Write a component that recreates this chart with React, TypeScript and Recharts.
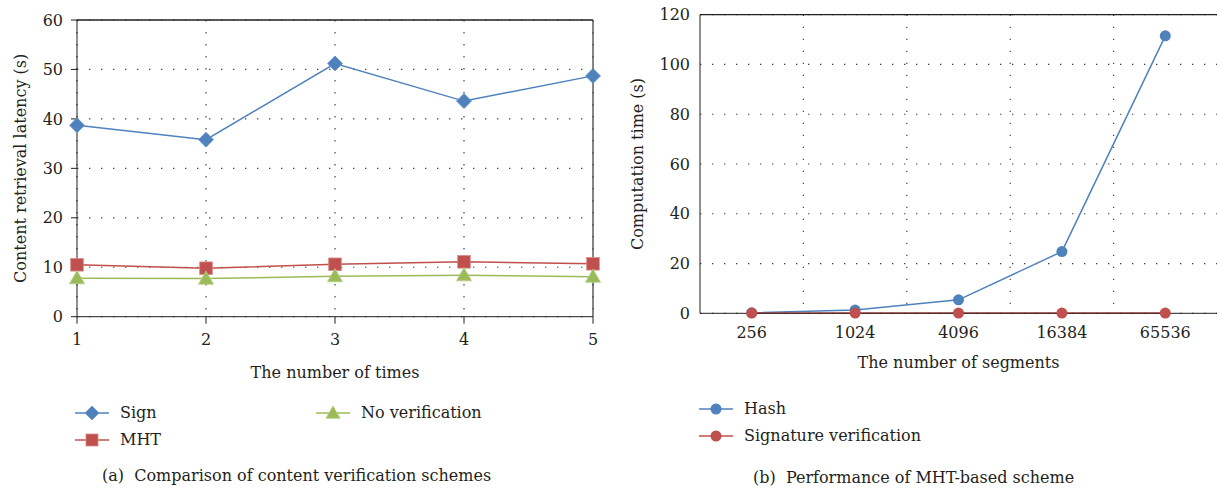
import React from 'react';
import { LineChart, Line, XAxis, YAxis, CartesianGrid, ReferenceLine } from 'recharts';

// (a) content retrieval latency per run
const times = [1, 2, 3, 4, 5];
const signLatency = [38.7, 35.8, 51.2, 43.6, 48.7];
const mhtLatency = [10.5, 9.8, 10.6, 11.1, 10.7];
const noVerifyLatency = [7.8, 7.7, 8.2, 8.4, 8.1];
const latencyTicks = [0, 10, 20, 30, 40, 50, 60];

// (b) computation time per segment count
const segments = ['256', '1024', '4096', '16384', '65536'];
const hashTime = [0.2, 1.3, 5.4, 24.8, 111.5];
const sigTime = [0.1, 0.1, 0.1, 0.1, 0.1];
const timeTicks = [0, 20, 40, 60, 80, 100, 120];

const BLUE = '#4f81bd';
const RED = '#c0504d';
const GREEN = '#9bbb59';
const INK = '#231f20';
const FONT = 'DejaVu Serif';
const FS = 16;

const latencyData = times.map((t, i) => ({
  t,
  sign: signLatency[i],
  mht: mhtLatency[i],
  none: noVerifyLatency[i],
}));

const timeData = segments.map((s, i) => ({
  seg: s,
  hash: hashTime[i],
  sig: sigTime[i],
}));

const Diamond = ({ cx, cy, r = 7.5 }: any) => (
  <path d={`M${cx},${cy - r}L${cx + r},${cy}L${cx},${cy + r}L${cx - r},${cy}Z`} fill={BLUE} stroke="#6a96cc" strokeWidth={0.8} />
);
const Square = ({ cx, cy, r = 6.3 }: any) => (
  <rect x={cx - r} y={cy - r} width={2 * r} height={2 * r} fill={RED} stroke="#d78a88" strokeWidth={0.8} />
);
const Triangle = ({ cx, cy, r = 7.5 }: any) => (
  <path d={`M${cx},${cy - r}L${cx + r},${cy + r * 0.75}L${cx - r},${cy + r * 0.75}Z`} fill={GREEN} stroke="#b3cd83" strokeWidth={0.8} />
);
const Dot = ({ cx, cy, fill }: any) => <circle cx={cx} cy={cy} r={5.5} fill={fill} />;

const tickStyle = { fill: INK, fontSize: FS, fontFamily: FONT };
const gridProps = { stroke: '#444', strokeDasharray: '1.4 10.6', strokeWidth: 1.2 };

const legendText: React.CSSProperties = {
  position: 'absolute',
  fontFamily: FONT,
  fontSize: FS,
  color: INK,
  whiteSpace: 'nowrap',
  lineHeight: '20px',
};

function LegendItem({ x, y, color, marker, label }: any) {
  return (
    <>
      <svg style={{ position: 'absolute', left: x, top: y - 10 }} width={36} height={20}>
        <line x1={0} y1={10} x2={34} y2={10} stroke={color} strokeWidth={1.5} />
        {marker(17, 10)}
      </svg>
      <div style={{ ...legendText, left: x + 45, top: y - 10 }}>{label}</div>
    </>
  );
}

export default function App() {
  const rightW = 617;
  const rightYW = 100;
  const rightPlotW = rightW - rightYW;
  const bandPad = rightPlotW / (2 * segments.length);

  return (
    <div style={{ position: 'absolute', left: 0, top: 0, width: 1217, height: 492, background: '#fff', overflow: 'hidden' }}>
      <LineChart
        width={620}
        height={400}
        data={latencyData}
        margin={{ top: 20, right: 27, left: 0, bottom: 22.3 }}
        style={{ position: 'absolute', left: 0, top: 0 }}
      >
        <CartesianGrid {...gridProps} />
        <XAxis
          dataKey="t"
          type="number"
          domain={[1, 5]}
          ticks={times}
          height={61}
          stroke={INK}
          tick={tickStyle}
          tickSize={7}
          tickMargin={10}
          label={{ value: 'The number of times', position: 'insideBottom', offset: 0, fill: INK, fontSize: FS, fontFamily: FONT }}
        />
        <YAxis
          domain={[0, 60]}
          ticks={latencyTicks}
          width={77}
          stroke={INK}
          tick={tickStyle}
          tickSize={6}
          tickMargin={8}
          label={{ value: 'Content retrieval latency (s)', angle: -90, position: 'insideLeft', offset: 20, fill: INK, fontSize: FS, fontFamily: FONT, style: { textAnchor: 'middle' } }}
        />
        <ReferenceLine y={60} stroke={INK} strokeWidth={1.3} />
        <ReferenceLine x={5} stroke="#444" strokeWidth={1.3} />
        <Line dataKey="sign" stroke={BLUE} strokeWidth={1.5} isAnimationActive={false} dot={(p: any) => <Diamond key={p.index} cx={p.cx} cy={p.cy} />} />
        <Line dataKey="mht" stroke={RED} strokeWidth={1.5} isAnimationActive={false} dot={(p: any) => <Square key={p.index} cx={p.cx} cy={p.cy} />} />
        <Line dataKey="none" stroke={GREEN} strokeWidth={1.5} isAnimationActive={false} dot={(p: any) => <Triangle key={p.index} cx={p.cx} cy={p.cy} />} />
      </LineChart>

      <LineChart
        width={rightW}
        height={400}
        data={timeData}
        margin={{ top: 14.7, right: 0, left: 0, bottom: 31.7 }}
        style={{ position: 'absolute', left: 600, top: 0 }}
      >
        <CartesianGrid
          {...gridProps}
          verticalCoordinatesGenerator={({ offset }: any) =>
            [1, 2, 3, 4].map((i) => offset.left + (offset.width * i) / segments.length)
          }
        />
        <XAxis
          dataKey="seg"
          padding={{ left: bandPad, right: bandPad }}
          height={55}
          stroke={INK}
          tick={tickStyle}
          tickLine={false}
          tickSize={0}
          tickMargin={13}
          label={{ value: 'The number of segments', position: 'insideBottom', offset: 0, fill: INK, fontSize: FS, fontFamily: FONT }}
        />
        <YAxis
          domain={[0, 120]}
          ticks={timeTicks}
          width={rightYW}
          stroke={INK}
          tick={tickStyle}
          tickLine={false}
          tickSize={0}
          tickMargin={10}
          label={{ value: 'Computation time (s)', angle: -90, position: 'insideLeft', offset: 37, fill: INK, fontSize: FS, fontFamily: FONT, style: { textAnchor: 'middle' } }}
        />
        <ReferenceLine y={120} stroke={INK} strokeWidth={1.3} />
        <Line dataKey="hash" stroke={BLUE} strokeWidth={1.5} isAnimationActive={false} dot={(p: any) => <Dot key={p.index} cx={p.cx} cy={p.cy} fill={BLUE} />} />
        <Line dataKey="sig" stroke={RED} strokeWidth={1.5} isAnimationActive={false} dot={(p: any) => <Dot key={p.index} cx={p.cx} cy={p.cy} fill={RED} />} />
      </LineChart>

      <LegendItem x={75} y={413} color={BLUE} label="Sign" marker={(x: number, y: number) => <Diamond cx={x} cy={y} r={7} />} />
      <LegendItem x={75} y={440} color={RED} label="MHT" marker={(x: number, y: number) => <Square cx={x} cy={y} r={6} />} />
      <LegendItem x={316} y={413} color={GREEN} label="No verification" marker={(x: number, y: number) => <Triangle cx={x} cy={y} r={7} />} />
      <div style={{ ...legendText, left: 102, top: 466 }}>(a)&nbsp;&nbsp;Comparison of content verification schemes</div>

      <LegendItem x={699} y={409} color={BLUE} label="Hash" marker={(x: number, y: number) => <Dot cx={x} cy={y} fill={BLUE} />} />
      <LegendItem x={699} y={436} color={RED} label="Signature verification" marker={(x: number, y: number) => <Dot cx={x} cy={y} fill={RED} />} />
      <div style={{ ...legendText, left: 753, top: 468 }}>(b)&nbsp;&nbsp;Performance of MHT-based scheme</div>
    </div>
  );
}
